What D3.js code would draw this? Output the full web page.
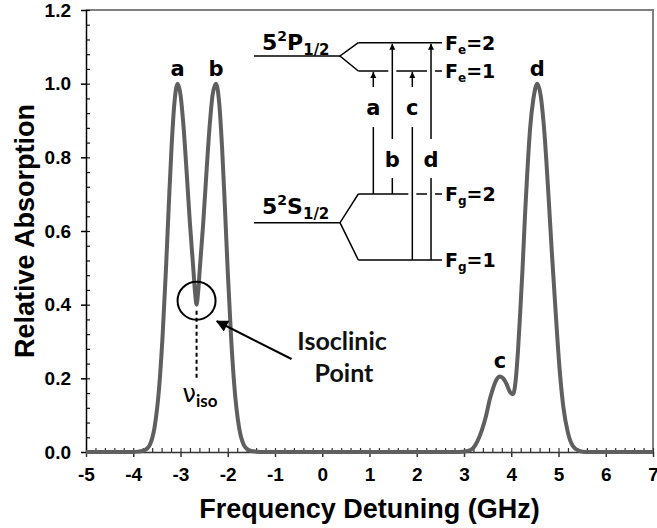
<!DOCTYPE html>
<html><head><meta charset="utf-8">
<script src="https://cdn.jsdelivr.net/npm/d3@7"></script>
<style>body{margin:0;background:#fff}svg{display:block}</style>
</head><body><svg id="c" width="657" height="528"></svg>
<script>
// ---- data ----
const detuning = [-5.00,-4.50,-4.00,-3.90,-3.80,-3.72,-3.65,-3.55,-3.45,-3.38,-3.31,-3.25,-3.19,-3.13,-3.06,-3.00,-2.94,-2.87,-2.80,-2.73,-2.69,-2.66,-2.63,-2.59,-2.52,-2.45,-2.38,-2.32,-2.25,-2.18,-2.12,-2.06,-2.00,-1.93,-1.86,-1.76,-1.66,-1.59,-1.51,-1.40,-1.20,0.00,1.00,2.00,2.90,3.05,3.18,3.28,3.38,3.47,3.55,3.62,3.69,3.76,3.83,3.90,3.96,4.02,4.05,4.09,4.14,4.19,4.24,4.29,4.34,4.40,4.47,4.55,4.62,4.70,4.78,4.86,4.94,5.02,5.10,5.20,5.30,5.42,5.60,6.00,7.00];
const absorption = [0,0,0,0.001,0.003,0.008,0.019,0.066,0.178,0.313,0.49,0.664,0.826,0.946,1.0,0.97,0.89,0.76,0.62,0.50,0.43,0.40,0.43,0.50,0.62,0.76,0.89,0.97,1.0,0.946,0.826,0.664,0.49,0.313,0.178,0.066,0.019,0.008,0.003,0.001,0,0,0,0,0,0.002,0.009,0.028,0.06,0.10,0.145,0.175,0.197,0.205,0.200,0.185,0.166,0.157,0.16,0.19,0.27,0.38,0.50,0.64,0.76,0.88,0.96,1.0,0.97,0.87,0.714,0.54,0.38,0.23,0.125,0.052,0.017,0.004,0,0,0];
const xTicks = [-5,-4,-3,-2,-1,0,1,2,3,4,5,6,7];
const yTicks = [0,0.2,0.4,0.6,0.8,1.0,1.2];
const peakNames = ["a","b","c","d"];
const peakX = [-3.06,-2.25,3.76,4.55];
const peakY = [1.0,1.0,0.205,1.0];
const isoX = -2.66, isoY = 0.40;

// ---- layout ----
const W = 657, H = 528;
const m = {l:86, r:4, t:10, b:76};
const svg = d3.select("#c");
const x = d3.scaleLinear().domain([-5,7]).range([m.l, W-m.r]);
const y = d3.scaleLinear().domain([0,1.2]).range([H-m.b, m.t]);
const AX = "'Liberation Sans', Arial, sans-serif";
const CS = "'DejaVu Sans', sans-serif";

// frame (top/right)
svg.append("path")
  .attr("d", `M${x(-5)},${y(1.2)}H${x(7)}V${y(0)}`)
  .attr("fill","none").attr("stroke","#808080").attr("stroke-width",2);

// minor ticks
const xMinor = d3.range(-5, 7.0001, 0.2);
const yMinor = d3.range(0, 1.2001, 0.04);
svg.append("g").attr("transform",`translate(0,${y(0)})`)
  .call(d3.axisBottom(x).tickValues(xMinor).tickSize(-4).tickFormat(""))
  .call(g=>g.select(".domain").remove())
  .call(g=>g.selectAll("line").attr("stroke","#333").attr("stroke-width",1.2));
svg.append("g").attr("transform",`translate(${x(-5)},0)`)
  .call(d3.axisLeft(y).tickValues(yMinor).tickSize(-4).tickFormat(""))
  .call(g=>g.select(".domain").remove())
  .call(g=>g.selectAll("line").attr("stroke","#111").attr("stroke-width",1.2));

// major axes
const gx = svg.append("g").attr("transform",`translate(0,${y(0)})`)
  .call(d3.axisBottom(x).tickValues(xTicks).tickSize(5).tickSizeOuter(0).tickPadding(11).tickFormat(d=>String(d)));
gx.select(".domain").attr("stroke","#333").attr("stroke-width",1.5);
gx.selectAll("line").attr("stroke","#333").attr("stroke-width",1.5);
gx.selectAll("text").attr("font-family",AX).attr("font-weight","bold").attr("font-size",19).attr("fill","#000");

const gy = svg.append("g").attr("transform",`translate(${x(-5)},0)`)
  .call(d3.axisLeft(y).tickValues(yTicks).tickSize(5).tickSizeOuter(0).tickPadding(10).tickFormat(d3.format(".1f")));
gy.select(".domain").attr("stroke","#000").attr("stroke-width",1.5);
gy.selectAll("line").attr("stroke","#000").attr("stroke-width",1.5);
gy.selectAll("text").attr("font-family",AX).attr("font-weight","bold").attr("font-size",19).attr("fill","#000");

// axis titles
svg.append("text").attr("x", (x(-5)+x(7))/2).attr("y", 518)
  .attr("text-anchor","middle").attr("font-family",AX).attr("font-weight","bold").attr("font-size",27)
  .text("Frequency Detuning (GHz)");
svg.append("text").attr("transform",`translate(34,${(y(0)+y(1.2))/2}) rotate(-90)`)
  .attr("text-anchor","middle").attr("font-family",AX).attr("font-weight","bold").attr("font-size",27)
  .text("Relative Absorption");

// curve
const pts = detuning.map((d,i)=>[d, absorption[i]]);
svg.append("path").datum(pts)
  .attr("d", d3.line().x(d=>x(d[0])).y(d=>y(d[1])).curve(d3.curveMonotoneX))
  .attr("fill","none").attr("stroke","#5f5f5f").attr("stroke-width",4).attr("stroke-linejoin","round");

// peak labels
svg.selectAll("text.pk").data(peakNames).enter().append("text").attr("class","pk")
  .attr("x",(d,i)=>x(peakX[i])).attr("y",(d,i)=>y(peakY[i])-8)
  .attr("text-anchor","middle").attr("font-family",CS).attr("font-weight","bold").attr("font-size",21)
  .text(d=>d);

// isoclinic annotation
svg.append("circle").attr("cx",x(isoX)).attr("cy",y(isoY)-4).attr("r",19)
  .attr("fill","none").attr("stroke","#000").attr("stroke-width",2);
svg.append("line").attr("x1",x(isoX)).attr("x2",x(isoX)).attr("y1",y(isoY)+6).attr("y2",y(0.2))
  .attr("stroke","#000").attr("stroke-width",2).attr("stroke-dasharray","4,3");
const nu = svg.append("text").attr("x",x(isoX)-14).attr("y",y(0.135)).attr("font-family","'DejaVu Sans', sans-serif").attr("font-size",24);
nu.append("tspan").text("ν");
nu.append("tspan").attr("font-family","Lato, sans-serif").attr("font-size",17).attr("font-weight","bold").attr("dy",5).text("iso");

const defs = svg.append("defs");
defs.append("marker").attr("id","bigArrow").attr("viewBox","0 0 10 10").attr("refX",9).attr("refY",5)
  .attr("markerWidth",7).attr("markerHeight",6).attr("markerUnits","strokeWidth").attr("orient","auto")
  .append("path").attr("d","M0,0L10,5L0,10Z").attr("fill","#000");
defs.append("marker").attr("id","smallArrow").attr("viewBox","0 0 10 10").attr("refX",10).attr("refY",5)
  .attr("markerWidth",6).attr("markerHeight",8).attr("markerUnits","userSpaceOnUse").attr("orient","auto")
  .append("path").attr("d","M0,0L10,5L0,10Z").attr("fill","#000");

svg.append("line").attr("x1",x(-0.65)).attr("y1",y(0.2525)).attr("x2",x(-2.23)).attr("y2",y(0.355))
  .attr("stroke","#000").attr("stroke-width",2).attr("marker-end","url(#bigArrow)");
svg.append("text").attr("x",x(0.42)).attr("y",y(0.277)).attr("text-anchor","middle")
  .attr("font-family","Lato, sans-serif").attr("font-weight","bold").attr("font-size",25).attr("fill","#111").text("Isoclinic");
svg.append("text").attr("x",x(0.46)).attr("y",y(0.19)).attr("text-anchor","middle")
  .attr("font-family","Lato, sans-serif").attr("font-weight","bold").attr("font-size",25).attr("fill","#111").text("Point");

// energy level diagram (inset, pixel offsets from its anchor)
const dg = svg.append("g").attr("transform",`translate(${x(-1.444)},${y(1.0751)})`)
  .attr("stroke","#000").attr("stroke-width",1.5).attr("fill","none");
const L = (x1,y1,x2,y2)=>dg.append("line").attr("x1",x1).attr("y1",y1).attr("x2",x2).attr("y2",y2);
const ax = {a:119.3,b:138.3,c:158.3,d:177};
const yFe2=-13.3, yFe1=15, yS=166.7, yFg2=138, yFg1=204;
L(0,0,86,0); dg.append("path").attr("d",`M104.3,${yFe2}L86,0L104.3,${yFe1}`);
L(104.3,yFe2,188,yFe2);
L(104.3,yFe1,ax.b-4,yFe1); L(ax.b+4,yFe1,ax.d-4,yFe1); L(ax.d+4,yFe1,188,yFe1);
L(0,yS,86,yS); dg.append("path").attr("d",`M104.3,${yFg2}L86,${yS}L104.3,${yFg1}`);
L(104.3,yFg2,ax.c-4,yFg2); L(ax.c+4,yFg2,ax.d-4,yFg2); L(ax.d+4,yFg2,188,yFg2);
L(104.3,yFg1,188,yFg1);
const up = (xx,y0,y1)=>dg.append("line").attr("x1",xx).attr("x2",xx).attr("y1",y0).attr("y2",y1).attr("marker-end","url(#smallArrow)");
L(ax.a,yFg2,ax.a,71); up(ax.a,31,yFe1+1);
L(ax.c,yFg1,ax.c,71); up(ax.c,31,yFe1+1);
L(ax.b,yFg2,ax.b,122); up(ax.b,83,yFe2+1);
L(ax.d,yFg1,ax.d,122); up(ax.d,83,yFe2+1);
const tdg = svg.append("g").attr("transform",`translate(${x(-1.444)},${y(1.0751)})`)
  .attr("font-family",CS).attr("font-weight","bold").attr("fill","#000");
[["a",ax.a,52],["c",ax.c,52],["b",ax.b,104],["d",ax.d,104]].forEach(([t,xx,yy])=>
  tdg.append("text").attr("x",xx).attr("y",yy+7).attr("text-anchor","middle").attr("font-size",21).text(t));
const lvl = (xx,yy,main,sup,sub)=>{
  const t = tdg.append("text").attr("x",xx).attr("y",yy).attr("font-size",22);
  t.append("tspan").text(main[0]);
  t.append("tspan").attr("font-size",14).attr("dy",-9).text(sup);
  t.append("tspan").attr("dy",9).text(main[1]);
  t.append("tspan").attr("font-size",15).attr("dy",5).text(sub);
};
lvl(8,-6,["5","P"],"2","1/2");
lvl(8,158,["5","S"],"2","1/2");
const fl = (yy,sub,val)=>{
  const t = tdg.append("text").attr("x",191).attr("y",yy+7).attr("font-size",19);
  t.append("tspan").text("F");
  t.append("tspan").attr("font-size",12).attr("dy",4).text(sub);
  t.append("tspan").attr("dy",-4).text("="+val);
};
fl(yFe2,"e","2"); fl(yFe1,"e","1"); fl(yFg2,"g","2"); fl(yFg1,"g","1");
</script></body></html>
